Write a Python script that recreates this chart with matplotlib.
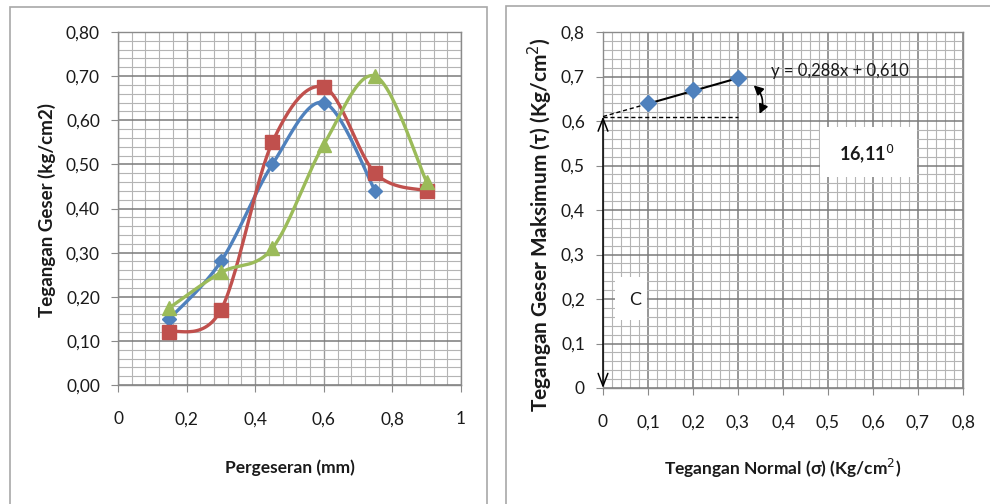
import numpy as np
import matplotlib
matplotlib.use("Agg")
import matplotlib.pyplot as plt
from matplotlib.ticker import MultipleLocator, FuncFormatter
from matplotlib.patches import Rectangle

plt.rcParams['font.family'] = ['Lato', 'DejaVu Sans']

# ---------------- data ----------------
disp_blue = [0.15, 0.30, 0.45, 0.60, 0.75]
tau_blue = [0.15, 0.28, 0.50, 0.64, 0.44]
disp_red = [0.15, 0.30, 0.45, 0.60, 0.75, 0.90]
tau_red = [0.12, 0.17, 0.55, 0.675, 0.48, 0.44]
disp_green = [0.15, 0.30, 0.45, 0.60, 0.75, 0.90]
tau_green = [0.175, 0.255, 0.31, 0.545, 0.70, 0.46]

sigma_n = [0.1, 0.2, 0.3]
tau_max = [0.64, 0.67, 0.697]
slope = 0.288
intercept = 0.610
eq_text = "y = 0,288x + 0,610"
angle_text = r"16,11$^{0}$"

left_xticks = [0, 0.2, 0.4, 0.6, 0.8, 1.0]
left_yticks = [0.0, 0.1, 0.2, 0.3, 0.4, 0.5, 0.6, 0.7, 0.8]
right_ticks = [0, 0.1, 0.2, 0.3, 0.4, 0.5, 0.6, 0.7, 0.8]

BLUE = "#4F81BD"
RED = "#C0504D"
GREEN = "#9BBB59"
W, H = 990, 504


def smooth(xs, ys, n=30):
    """Excel-like smoothed line (Catmull-Rom Bezier) through the points."""
    P = np.column_stack([xs, ys]).astype(float)
    out = []
    for i in range(len(P) - 1):
        p0 = P[i - 1] if i > 0 else P[i]
        p1 = P[i]
        p2 = P[i + 1]
        p3 = P[i + 2] if i + 2 < len(P) else P[i + 1]
        c1 = p1 + (p2 - p0) / 6.0
        c2 = p2 - (p3 - p1) / 6.0
        t = np.linspace(0, 1, n)[:, None]
        seg = ((1 - t) ** 3) * p1 + 3 * ((1 - t) ** 2) * t * c1 + 3 * (1 - t) * t ** 2 * c2 + t ** 3 * p2
        out.append(seg if i == 0 else seg[1:])
    S = np.vstack(out)
    return S[:, 0], S[:, 1]


def comma(fmt):
    return FuncFormatter(lambda v, p: fmt(v).replace('.', ','))


fig = plt.figure(figsize=(W / 100, H / 100), dpi=100)
fig.patch.set_facecolor("white")

# panel frames
fig.add_artist(Rectangle((10 / W, -0.05), (487 - 10) / W, (H - 7) / H + 0.05,
                         transform=fig.transFigure, fill=False, ec="#a8a8a8", lw=1.2))
fig.add_artist(Rectangle((506 / W, -0.05), 0.6, (H - 6) / H + 0.05,
                         transform=fig.transFigure, fill=False, ec="#a8a8a8", lw=1.2))


def style_axes(ax, xmaj, xmin, ymaj, ymin):
    ax.xaxis.set_major_locator(MultipleLocator(xmaj))
    ax.xaxis.set_minor_locator(MultipleLocator(xmin))
    ax.yaxis.set_major_locator(MultipleLocator(ymaj))
    ax.yaxis.set_minor_locator(MultipleLocator(ymin))
    ax.grid(which="minor", color="#b4b4b4", lw=0.8)
    ax.grid(which="major", axis="y", color="#7a7a7a", lw=1.1)
    ax.grid(which="major", axis="x", color="#999999", lw=1.0)
    ax.set_axisbelow(True)
    for s in ax.spines.values():
        s.set_color("#8a8a8a")
        s.set_linewidth(1.0)
    ax.tick_params(which="major", direction="out", length=5, color="#8a8a8a",
                   labelsize=12.5, labelcolor="#1a1a1a", pad=8)
    ax.tick_params(which="minor", length=0)


# ---------------- left chart ----------------
ax1 = fig.add_axes([118 / W, 1 - 385 / H, (461 - 118) / W, (385 - 32) / H])
ax1.set_xlim(0, 1)
ax1.set_ylim(0, 0.8)
style_axes(ax1, 0.2, 0.04, 0.1, 0.02)
ax1.set_xticks(left_xticks)
ax1.set_yticks(left_yticks)
ax1.xaxis.set_major_formatter(comma(lambda v: "%g" % round(v, 2)))
ax1.yaxis.set_major_formatter(comma(lambda v: "%.2f" % v))
ax1.tick_params(axis="x", pad=14)

for xs, ys, col, mk, ms in [(disp_blue, tau_blue, BLUE, "D", 7.5),
                            (disp_red, tau_red, RED, "s", 9.5),
                            (disp_green, tau_green, GREEN, "^", 9.5)]:
    sx, sy = smooth(xs, ys)
    ax1.plot(sx, sy, color=col, lw=2.4, solid_capstyle="round", zorder=3)
    ax1.plot(xs, ys, ls="none", marker=mk, ms=ms, color=col, zorder=4)

fig.text(290 / W, 1 - 468 / H, "Pergeseran (mm)", ha="center", va="center",
         fontsize=12.5, fontweight="bold", color="#1a1a1a")
fig.text(47 / W, 1 - 210 / H, "Tegangan Geser (kg/cm2)", ha="center", va="center",
         rotation=90, fontsize=13.5, fontweight="bold", color="#1a1a1a")

# ---------------- right chart ----------------
ax2 = fig.add_axes([603 / W, 1 - 388 / H, 360 / W, (388 - 32) / H])
ax2.set_xlim(0, 0.8)
ax2.set_ylim(0, 0.8)
style_axes(ax2, 0.1, 0.02, 0.1, 0.02)
ax2.grid(which="major", axis="x", color="#7a7a7a", lw=1.1)
ax2.set_xticks(right_ticks)
ax2.set_yticks(right_ticks)
ax2.xaxis.set_major_formatter(comma(lambda v: "%g" % round(v, 2)))
ax2.yaxis.set_major_formatter(comma(lambda v: "%g" % round(v, 2)))
ax2.tick_params(axis="x", pad=14)

# trend line
x_fit = np.array([sigma_n[0], sigma_n[-1]])
ax2.plot(x_fit, slope * x_fit + intercept, color="black", lw=1.5, zorder=4)
x_ext = np.array([0, sigma_n[0]])
ax2.plot(x_ext, slope * x_ext + intercept, color="black", lw=1.0, ls=(0, (3, 2)), zorder=4)
ax2.plot([0, sigma_n[-1]], [intercept, intercept], color="black", lw=1.0, ls=(0, (3, 2)), zorder=4)
ax2.plot(sigma_n, tau_max, ls="none", marker="D", ms=8, color=BLUE, zorder=5)

# cohesion arrow (open heads)
ax2.annotate("", xy=(0.0, 0.0), xytext=(0.0, intercept),
             arrowprops=dict(arrowstyle="<->,head_length=0.9,head_width=0.35",
                             color="black", lw=1.1, shrinkA=0, shrinkB=0), zorder=6)
# angle arrow (curved, filled heads)
ax2.annotate("", xy=(0.348, 0.616), xytext=(0.335, 0.680),
             arrowprops=dict(arrowstyle="<|-|>,head_length=0.55,head_width=0.28",
                             color="black", lw=1.2, shrinkA=0, shrinkB=0,
                             connectionstyle="arc3,rad=-0.35"), zorder=6)

ax2.text(0.373, 0.712, eq_text, ha="left", va="center", fontsize=12, color="#1a1a1a", zorder=6)

ax2.add_patch(Rectangle((0.482, 0.474), 0.216, 0.113, facecolor="white", edgecolor="none", zorder=5))
ax2.text(0.587, 0.527, angle_text, ha="center", va="center", fontsize=13,
         fontweight="bold", color="#1a1a1a", zorder=6)

ax2.add_patch(Rectangle((0.027, 0.153), 0.071, 0.097, facecolor="white", edgecolor="none", zorder=5))
ax2.text(0.071, 0.197, "C", ha="center", va="center", fontsize=13, color="#1a1a1a", zorder=6)

fig.text(783 / W, 1 - 468 / H, "Tegangan Normal (σ) (Kg/cm$^{2}$)", ha="center", va="center",
         fontsize=12.5, fontweight="bold", color="#1a1a1a")
fig.text(540 / W, 1 - 225 / H, "Tegangan Geser Maksimum (τ) (Kg/cm$^{2}$)", ha="center",
         va="center", rotation=90, fontsize=15, fontweight="bold", color="#1a1a1a")

fig.savefig("out.png", dpi=100, facecolor="white")
